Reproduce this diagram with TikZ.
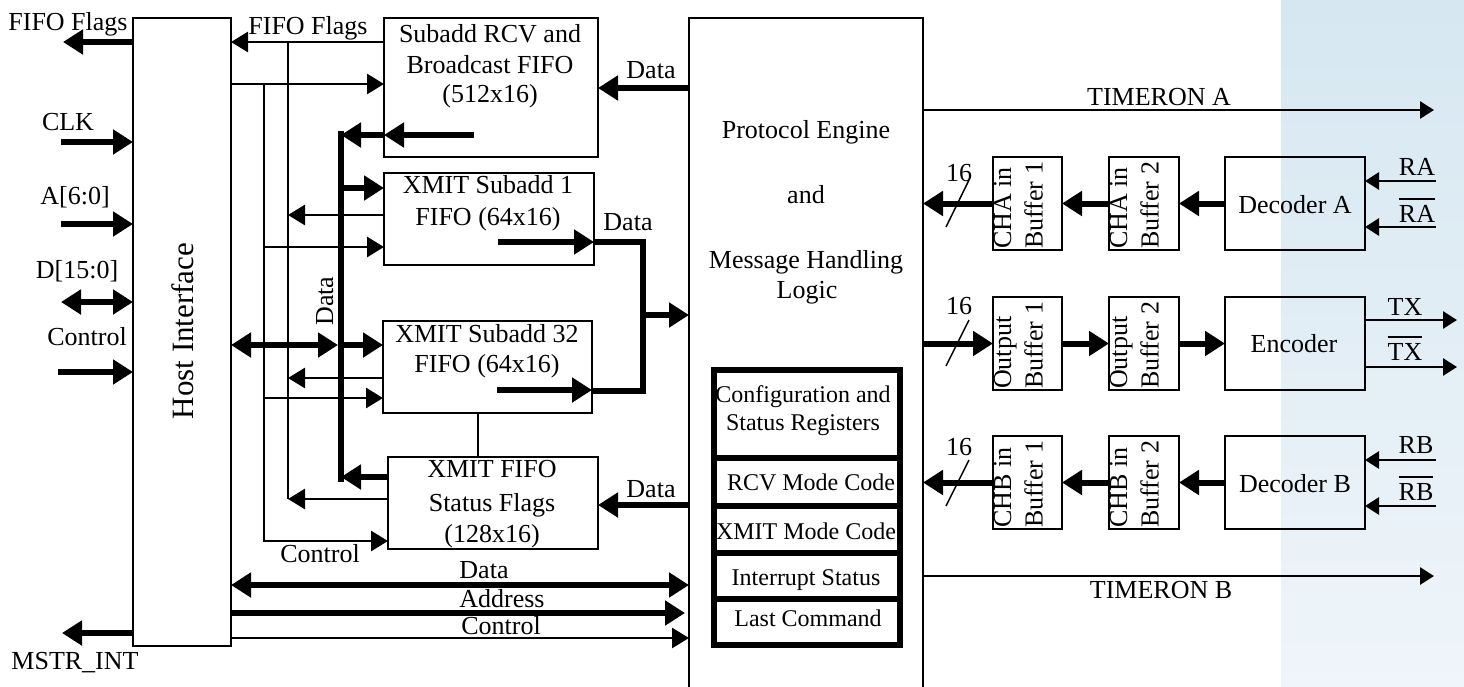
\documentclass[tikz,border=0pt]{standalone}
\usepackage{fontspec}
\setmainfont{Liberation Serif}
\usetikzlibrary{arrows.meta,fit}
% two-line label, first baseline is the node baseline
\newcommand\twolines[1]{\begin{tabular}[t]{@{}l@{}}#1\end{tabular}}
% active-low signal name with a bar over it
\newcommand\barred[1]{\vbox{\hrule height 2pt\kern 4.5pt\hbox{#1}}}
\begin{document}
\begin{tikzpicture}[x=1pt,y=-1pt,
  box/.style={draw, line width=2.5pt, inner sep=0pt, outer sep=0pt},
  wire/.style={line width=2.8pt},
  warr/.style={wire, -{Triangle[length=17pt,width=20pt]}},
  wsm/.style={wire, -{Triangle[length=14pt,width=17pt]}},
  fat/.style={line width=6pt},
  farr/.style={fat, -{Triangle[length=20pt,width=24pt]}},
  fboth/.style={fat, {Triangle[length=20pt,width=24pt]}-{Triangle[length=20pt,width=24pt]}},
  txt/.style={inner sep=0pt, anchor=base, font=\fontsize{26}{31.5}\selectfont},
  regtxt/.style={txt, font=\fontsize{24}{28}\selectfont},
  vlbl/.style={inner sep=0pt, rotate=90, anchor=base west, font=\fontsize{26}{31.5}\selectfont},
  slash/.style={line width=1.5pt}]

\useasboundingbox (0,0) rectangle (1464,686);
\fill[top color={rgb,255:red,214;green,231;blue,241},
      bottom color={rgb,255:red,239;green,245;blue,250}] (1281,0) rectangle (1464,686);

% ---------------- blocks ----------------
\node[box, fit={(133,18) (231,646)}] (host) {};
\node[box, fit={(384,18) (598,157)}] (rcv) {};
\node[box, fit={(384,173) (594,265)}] (xa) {};
\node[box, fit={(383,321) (592,413)}] (xb) {};
\node[box, fit={(388,457) (598,549)}] (stat) {};
\node[box, fit={(689,18) (923,720)}] (pe) {};
\node[box, fit={(993,157) (1062,250)}] (ca1) {};
\node[box, fit={(1109,157) (1179,250)}] (ca2) {};
\node[box, fit={(1225,157) (1365,250)}] (deca) {};
\node[box, fit={(993,297) (1062,390)}] (ob1) {};
\node[box, fit={(1109,297) (1179,390)}] (ob2) {};
\node[box, fit={(1225,297) (1365,390)}] (enc) {};
\node[box, fit={(993,436) (1062,529)}] (cb1) {};
\node[box, fit={(1109,436) (1179,529)}] (cb2) {};
\node[box, fit={(1225,436) (1365,529)}] (decb) {};

% register file inside the protocol engine
\node[draw, line width=6pt, inner sep=0pt, fit={(714,370) (900,645)}] (regs) {};
\foreach \yy in {458,506,553,599}
  \draw[line width=6pt] (regs.west |- 0,\yy) -- (regs.east |- 0,\yy);

% ---------------- block texts ----------------
\node[txt, rotate=90, font=\fontsize{31}{36}\selectfont] (hostt) at (193,331) {Host Interface};

\node[txt] (rcvt1) at (490,42) {Subadd RCV and};
\node[txt] (rcvt2) at (490,73) {Broadcast FIFO};
\node[txt] (rcvt3) at (490,102) {(512x16)};
\node[txt] (xat1) at (488,193) {XMIT Subadd 1};
\node[txt] (xat2) at (488,225) {FIFO (64x16)};
\node[txt] (xbt1) at (487,342) {XMIT Subadd 32};
\node[txt] (xbt2) at (487,372) {FIFO (64x16)};
\node[txt] (statt1) at (492,477) {XMIT FIFO};
\node[txt] (statt2) at (492,511) {Status Flags};
\node[txt] (statt3) at (492,542) {(128x16)};

\node[txt] (pet1) at (806,138) {Protocol Engine};
\node[txt] (pet2) at (806,203) {and};
\node[txt] (pet3) at (806,268) {Message Handling};
\node[txt] (pet4) at (807,298) {Logic};

\node[regtxt] (rg1) at (803,402) {Configuration and};
\node[regtxt] (rg2) at (803,430) {Status Registers};
\node[regtxt] (rg3) at (811,490) {RCV Mode Code};
\node[regtxt] (rg4) at (806,539) {XMIT Mode Code};
\node[regtxt] (rg5) at (806,585) {Interrupt Status};
\node[regtxt] (rg6) at (808,626) {Last Command};

\node[vlbl] (ca1t) at (1011,249) {\twolines{CHA in\\Buffer 1}};
\node[vlbl] (ca2t) at (1127,249) {\twolines{CHA in\\Buffer 2}};
\node[vlbl] (ob1t) at (1011,389) {\twolines{Output\\Buffer 1}};
\node[vlbl] (ob2t) at (1127,389) {\twolines{Output\\Buffer 2}};
\node[vlbl] (cb1t) at (1011,528) {\twolines{CHB in\\Buffer 1}};
\node[vlbl] (cb2t) at (1127,528) {\twolines{CHB in\\Buffer 2}};

\node[txt] (decat) at (1295,213) {Decoder A};
\node[txt] (enct) at (1294,352) {Encoder};
\node[txt] (decbt) at (1295,492) {Decoder B};

% ---------------- connector end points ----------------
\coordinate (ffl) at (63,42);
\coordinate (clk) at (61,142);
\coordinate (adr) at (61,224);
\coordinate (dio) at (61,302);
\coordinate (ctl) at (58,372);
\coordinate (mst) at (62,633);
\coordinate (fbt) at (288,42);
\coordinate (fbb) at (288,499);
\coordinate (cbt) at (264,84);
\coordinate (cbb) at (264,541);
\coordinate (dbt) at (341,131);
\coordinate (dbb) at (341,482);
\coordinate (rcvsrc) at (474,135);
\coordinate (xasrc) at (498,242);
\coordinate (xbsrc) at (497,390);
\coordinate (mrg) at (643,315);
\coordinate (tia) at (1434,110);
\coordinate (tib) at (1434,576);
\coordinate (ra) at (1436,181);
\coordinate (rab) at (1436,227);
\coordinate (tx) at (1457,320);
\coordinate (txb) at (1457,367);
\coordinate (rb) at (1436,460);
\coordinate (rbb) at (1436,506);

% ---------------- host side pins ----------------
\draw[farr] (host.west |- ffl) -- (ffl);
\draw[farr] (clk) -- (host.west |- clk);
\draw[farr] (adr) -- (host.west |- adr);
\draw[fboth] (dio) -- (host.west |- dio);
\draw[farr] (ctl) -- (host.west |- ctl);
\draw[farr] (host.west |- mst) -- (mst);

\node[txt] (fflt) at (68,30) {FIFO Flags};
\node[txt] (clkt) at (68,130) {CLK};
\node[txt] (adrt) at (75,204) {A[6:0]};
\node[txt] (diot) at (77,278) {D[15:0]};
\node[txt] (ctlt) at (87,345) {Control};
\node[txt] (mstt) at (75,669) {MSTR\_INT};

% ---------------- FIFO flag lines ----------------
\draw[warr] (rcv.west |- fbt) -- (host.east |- fbt);
\draw[wire] (fbt) -- (fbb);
\draw[warr] (xa.west |- 0,215) -- (fbt |- 0,215);
\draw[warr] (xb.west |- 0,378) -- (fbt |- 0,378);
\draw[warr] (stat.west |- fbb) -- (fbb);
\node[txt] (ffmt) at (308,34) {FIFO Flags};

% ---------------- control lines ----------------
\draw[warr] (host.east |- cbt) -- (rcv.west |- cbt);
\draw[warr] (cbt) -- (cbb) -- (stat.west |- cbb);
\draw[warr] (cbt |- 0,247) -- (xa.west |- 0,247);
\draw[warr] (cbt |- 0,398) -- (xb.west |- 0,398);
\node[txt] (ctlmt) at (320,562) {Control};

% ---------------- internal data bus ----------------
\draw[fat] (dbt) -- (dbb);
\draw[farr] (rcvsrc) -- (rcv.west |- rcvsrc);
\draw[farr] (rcv.west |- rcvsrc) -- (dbt |- rcvsrc);
\draw[farr] (dbt |- 0,188) -- (xa.west |- 0,188);
\draw[fboth, shorten >=3pt] (host.east |- 0,345) -- (dbt |- 0,345);
\draw[farr] (dbt |- 0,345) -- (xb.west |- 0,345);
\draw[farr] (stat.west |- 0,477) -- (dbt |- 0,477);
\node[txt, rotate=90] (dbust) at (333,301) {Data};

% ---------------- transmit FIFOs to protocol engine ----------------
\draw[farr] (xasrc) -- (xa.east |- xasrc);
\draw[farr] (xbsrc) -- (xb.east |- xbsrc);
\draw[fat] (xa.east |- xasrc) -| (mrg) |- (xb.east |- 0,391);
\draw[farr] (mrg) -- (pe.west |- mrg);
\node[txt] (xadt) at (628,230) {Data};

\draw[farr] (pe.west |- 0,88) -- (rcv.east |- 0,88);
\node[txt] (rcvdt) at (651,78) {Data};
\draw[farr] (pe.west |- 0,505) -- (stat.east |- 0,505);
\node[txt] (statdt) at (651,497) {Data};
\draw[wire] (xb.south -| 478,0) -- (stat.north -| 478,0);

% ---------------- host buses ----------------
\draw[fboth] (host.east |- 0,585) -- (pe.west |- 0,585);
\draw[farr, shorten >=4pt] (host.east |- 0,613) -- (pe.west |- 0,613);
\draw[warr] (host.east |- 0,638) -- (pe.west |- 0,638);
\node[txt] (hbd) at (484,578) {Data};
\node[txt] (hba) at (502,607) {Address};
\node[txt] (hbc) at (501,634) {Control};

% ---------------- channel side ----------------
\draw[wsm] (pe.east |- tia) -- (tia);
\draw[wsm] (pe.east |- tib) -- (tib);
\node[txt] (tiat) at (1159,105) {TIMERON A};
\node[txt] (tibt) at (1161,598) {TIMERON B};

\draw[farr] (ca1.west) -- (pe.east |- ca1.west);
\draw[farr] (ca2.west) -- (ca1.east);
\draw[farr] (deca.west) -- (ca2.east);
\draw[wsm] (ra) -- (deca.east |- ra);
\draw[wsm] (rab) -- (deca.east |- rab);

\draw[farr] (pe.east |- ob1.west) -- (ob1.west);
\draw[farr] (ob1.east) -- (ob2.west);
\draw[farr] (ob2.east) -- (enc.west);
\draw[wsm] (enc.east |- tx) -- (tx);
\draw[wsm] (enc.east |- txb) -- (txb);

\draw[farr] (cb1.west) -- (pe.east |- cb1.west);
\draw[farr] (cb2.west) -- (cb1.east);
\draw[farr] (decb.west) -- (cb2.east);
\draw[wsm] (rb) -- (decb.east |- rb);
\draw[wsm] (rbb) -- (decb.east |- rbb);

% bus width marks
\draw[slash] (946,227) -- (969,180);
\draw[slash] (946,366) -- (969,320);
\draw[slash] (946,506) -- (969,460);
\node[txt] (w1) at (959,181) {16};
\node[txt] (w2) at (959,314) {16};
\node[txt] (w3) at (959,455) {16};

\node[txt] (rat) at (1417,175) {RA};
\node[txt] (rabt) at (1417,222) {\barred{RA}};
\node[txt] (txt1) at (1405,315) {TX};
\node[txt] (txbt) at (1405,360) {\barred{TX}};
\node[txt] (rbt) at (1416,453) {RB};
\node[txt] (rbbt) at (1416,500) {\barred{RB}};
\end{tikzpicture}
\end{document}
